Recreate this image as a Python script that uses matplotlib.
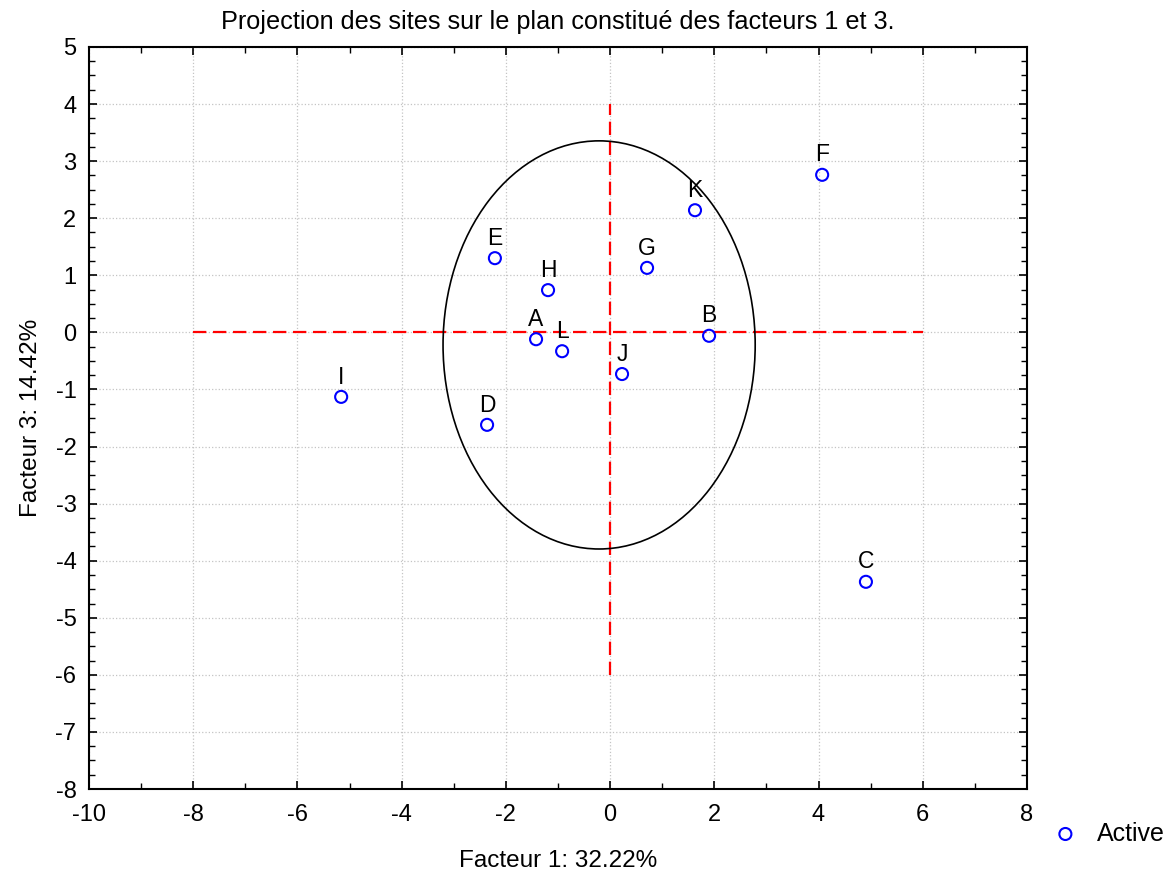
import matplotlib
matplotlib.use("Agg")
import matplotlib.pyplot as plt
from matplotlib.patches import Ellipse
from matplotlib.ticker import MultipleLocator

plt.rcParams['font.family'] = ['Liberation Sans', 'DejaVu Sans']
plt.rcParams['axes.unicode_minus'] = False

sites = ['F', 'K', 'G', 'E', 'H', 'B', 'A', 'L', 'J', 'I', 'D', 'C']
facteur1 = [4.07, 1.63, 0.71, -2.21, -1.19, 1.90, -1.42, -0.92, 0.23, -5.16, -2.36, 4.91]
facteur3 = [2.76, 2.14, 1.13, 1.30, 0.74, -0.06, -0.12, -0.33, -0.73, -1.13, -1.62, -4.37]

# ellipse: centre, width, height (data units)
ell_centre = (-0.21, -0.22)
ell_width = 5.99
ell_height = 7.15

fig = plt.figure(figsize=(11.75, 8.81), dpi=100)
ax = fig.add_axes([0.0757, 0.1044, 0.7983, 0.8423])

ax.plot([-8, 6], [0, 0], color='red', ls=(0, (6, 3)), lw=1.6, zorder=2)
ax.plot([0, 0], [-6, 4], color='red', ls=(0, (6, 3)), lw=1.6, zorder=2)
ax.add_patch(Ellipse(ell_centre, ell_width, ell_height, fill=False,
                     edgecolor='black', lw=1.2, zorder=2))

ax.scatter(facteur1, facteur3, s=75, facecolors='none', edgecolors='blue',
           linewidths=1.5, zorder=3, label='Active')
for name, x, y in zip(sites, facteur1, facteur3):
    ax.annotate(name, (x, y), xytext=(0, 6), textcoords='offset points',
                ha='center', va='bottom', fontsize=16.5)

ax.set_xlim(-10, 8)
ax.set_ylim(-8, 5)
ax.xaxis.set_major_locator(MultipleLocator(2))
ax.xaxis.set_minor_locator(MultipleLocator(1))
ax.yaxis.set_major_locator(MultipleLocator(1))
ax.yaxis.set_minor_locator(MultipleLocator(0.25))
ax.tick_params(which='both', direction='in', top=True, right=True, labelsize=17)
ax.tick_params(which='major', length=6, width=1.2)
ax.tick_params(which='minor', length=4, width=1)
ax.tick_params(axis='x', pad=11)
ax.tick_params(axis='y', pad=9)
ax.grid(True, which='major', color='#c4c4c4', ls=':', lw=0.9)
for s in ax.spines.values():
    s.set_linewidth(1.5)

ax.set_title('Projection des sites sur le plan constitué des facteurs 1 et 3.',
             fontsize=18.2, pad=13)
ax.set_xlabel('Facteur 1: 32.22%', fontsize=17.5, labelpad=17)
ax.set_ylabel('Facteur 3: 14.42%', fontsize=17.5, labelpad=10)

ax.legend(loc='center left', bbox_to_anchor=(0.997, -0.06), frameon=False,
          fontsize=18, handletextpad=0.5, handlelength=1.5)

fig.savefig('out.png', dpi=100)
